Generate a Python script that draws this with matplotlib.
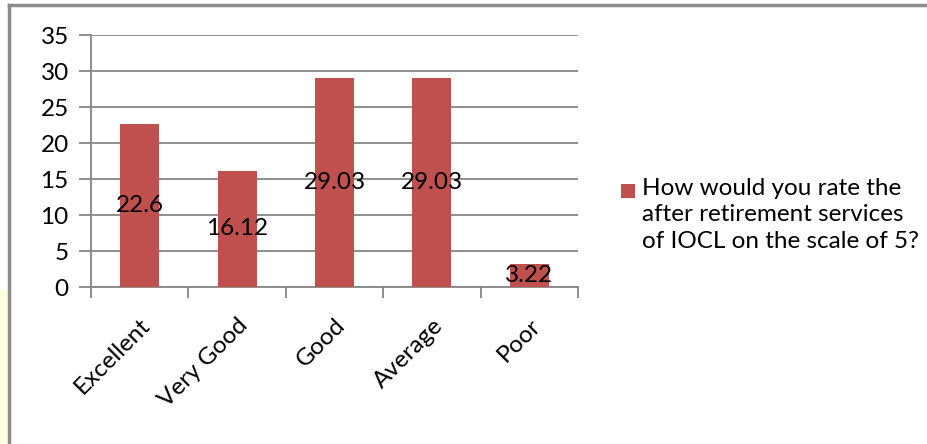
import matplotlib.pyplot as plt
from matplotlib.patches import Rectangle
from matplotlib.lines import Line2D

categories = ['Excellent', 'Very Good', 'Good', 'Average', 'Poor']
values = [22.6, 16.12, 29.03, 29.03, 3.22]
value_labels = ['22.6', '16.12', '29.03', '29.03', '3.22']
series_name = 'How would you rate the\nafter retirement services\nof IOCL on the scale of 5?'
y_ticks = [0, 5, 10, 15, 20, 25, 30, 35]

plt.rcParams['font.family'] = ['Lato', 'DejaVu Sans']
W, H = 928, 444
fs = 17.5
fig = plt.figure(figsize=(W / 100, H / 100), dpi=100)
fig.patch.set_facecolor('white')

# light yellow strip at the lower left and the grey frame lines
fig.patches.append(Rectangle((0, 0), 9 / W, (H - 290) / H, transform=fig.transFigure,
                             facecolor='#FFFFE0', edgecolor='none'))
fig.lines.append(Line2D([9 / W, 9 / W], [0, 1 - 5 / H], transform=fig.transFigure,
                        color='#8C8C8C', lw=2.5))
fig.lines.append(Line2D([9 / W, 1], [1 - 5 / H, 1 - 5 / H], transform=fig.transFigure,
                        color='#8C8C8C', lw=2.5))

grey = '#868686'
ax = fig.add_axes([91 / W, 1 - 287 / H, (578 - 91) / W, (287 - 35) / H])
x = list(range(len(categories)))
ax.bar(x, values, width=0.4, color='#C0504D', zorder=3)
for xi, v, lab in zip(x, values, value_labels):
    ax.text(xi, v / 2, lab, ha='center', va='center', fontsize=fs, color='black', zorder=4)

ax.set_xlim(-0.5, len(categories) - 0.5)
ax.set_ylim(0, 35)
ax.set_yticks(y_ticks)
ax.yaxis.grid(True, color=grey, lw=1.3, zorder=0)
ax.set_xticks([i - 0.5 for i in range(len(categories) + 1)])
ax.set_xticklabels([])
ax.set_xticks(x, minor=True)
ax.set_xticklabels(categories, minor=True, rotation=45, ha='right', va='top',
                   rotation_mode='anchor', fontsize=fs)
ax.tick_params(axis='x', which='major', length=8, width=1.3, color=grey, direction='out')
ax.tick_params(axis='x', which='minor', length=0, pad=20)
ax.tick_params(axis='y', length=9, width=1.3, color=grey, labelsize=fs, pad=7)
for side in ['top', 'right']:
    ax.spines[side].set_visible(False)
for side in ['left', 'bottom']:
    ax.spines[side].set_color(grey)
    ax.spines[side].set_linewidth(1.3)
ax.set_facecolor('white')

# legend
fig.patches.append(Rectangle((621 / W, 1 - 198 / H), 14 / W, 14 / H, transform=fig.transFigure,
                             facecolor='#C0504D', edgecolor='none'))
fig.text(642 / W, 1 - 178 / H, series_name, ha='left', va='top', fontsize=fs,
         linespacing=1.32)

fig.savefig('out.png', dpi=100)
